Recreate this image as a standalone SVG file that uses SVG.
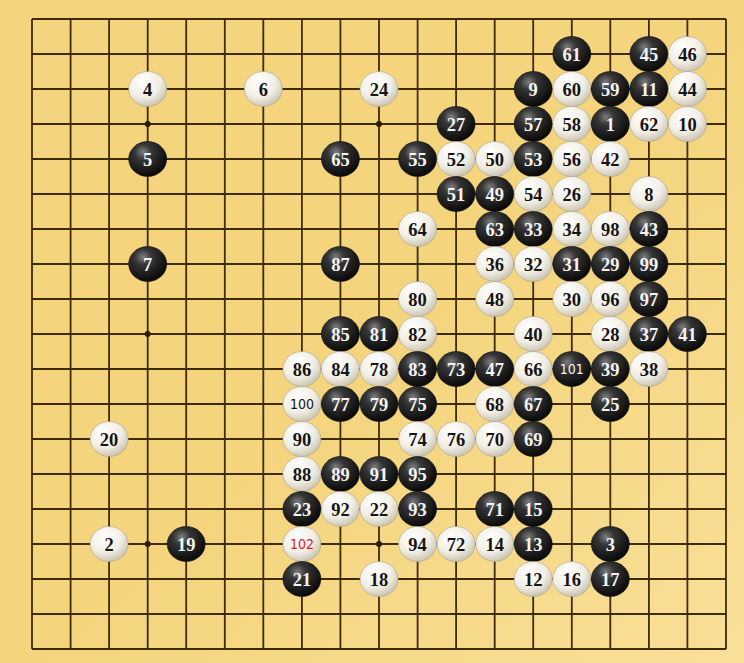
<svg xmlns="http://www.w3.org/2000/svg" width="744" height="663" viewBox="0 0 744 663">
<defs>
<linearGradient id="board" x1="0" y1="0" x2="1" y2="1">
<stop offset="0" stop-color="#f5d47f"/>
<stop offset="0.5" stop-color="#f4d47c"/>
<stop offset="1" stop-color="#f9df98"/>
</linearGradient>
<radialGradient id="gb" cx="0.38" cy="0.3" r="0.75">
<stop offset="0" stop-color="#7e7e7e"/>
<stop offset="0.3" stop-color="#353535"/>
<stop offset="1" stop-color="#050505"/>
</radialGradient>
<radialGradient id="gw" cx="0.38" cy="0.3" r="0.8">
<stop offset="0" stop-color="#ffffff"/>
<stop offset="0.55" stop-color="#f1eee4"/>
<stop offset="1" stop-color="#bfb8a4"/>
</radialGradient>
<style>
.grid{stroke:#3d2b0c;stroke-width:1.8;fill:none}
.star{fill:#2a1c06}
ellipse{stroke-width:0.6}
.b ellipse{fill:url(#gb);stroke:#111}
.w ellipse{fill:url(#gw);stroke:#a89f88}
text{font-family:"Liberation Serif","DejaVu Serif",serif;font-weight:bold;font-size:18.5px;text-anchor:middle}
.b text{fill:#f4f4f4}
.w text{fill:#151515}
text.t{font-family:"DejaVu Sans Condensed","DejaVu Sans",sans-serif;font-weight:normal;font-size:14px}
.w text.red{fill:#e01818}
</style>
</defs>
<rect x="0" y="0" width="744" height="663" fill="url(#board)"/>
<g id="grid">
<path class="grid" d="M32,19H726M32,54H726M32,89H726M32,124H726M32,159H726M32,194H726M32,229H726M32,264H726M32,299H726M32,334H726M32,369H726M32,404H726M32,439H726M32,474H726M32,509H726M32,544H726M32,579H726M32,614H726M32,649H726
M32,19V649M70.6,19V649M109.1,19V649M147.7,19V649M186.2,19V649M224.8,19V649M263.3,19V649M301.9,19V649M340.4,19V649M379,19V649M417.6,19V649M456.1,19V649M494.7,19V649M533.2,19V649M571.8,19V649M610.3,19V649M648.9,19V649M687.4,19V649M726,19V649"/>
<circle class="star" cx="147.7" cy="124" r="3"/>
<circle class="star" cx="379" cy="124" r="3"/>
<circle class="star" cx="610.3" cy="124" r="3"/>
<circle class="star" cx="147.7" cy="334" r="3"/>
<circle class="star" cx="379" cy="334" r="3"/>
<circle class="star" cx="610.3" cy="334" r="3"/>
<circle class="star" cx="147.7" cy="544" r="3"/>
<circle class="star" cx="379" cy="544" r="3"/>
<circle class="star" cx="610.3" cy="544" r="3"/>
</g>
<g id="stones">
<g id="s61" class="b" transform="translate(571.8,54)"><ellipse rx="19" ry="17.5"/><text y="6.5">61</text></g>
<g id="s45" class="b" transform="translate(648.9,54)"><ellipse rx="19" ry="17.5"/><text y="6.5">45</text></g>
<g id="s46" class="w" transform="translate(687.4,54)"><ellipse rx="19" ry="17.5"/><text y="6.5">46</text></g>

<g id="s4" class="w" transform="translate(147.7,89)"><ellipse rx="19" ry="17.5"/><text y="6.5">4</text></g>
<g id="s6" class="w" transform="translate(263.3,89)"><ellipse rx="19" ry="17.5"/><text y="6.5">6</text></g>
<g id="s24" class="w" transform="translate(379,89)"><ellipse rx="19" ry="17.5"/><text y="6.5">24</text></g>
<g id="s9" class="b" transform="translate(533.2,89)"><ellipse rx="19" ry="17.5"/><text y="6.5">9</text></g>
<g id="s60" class="w" transform="translate(571.8,89)"><ellipse rx="19" ry="17.5"/><text y="6.5">60</text></g>
<g id="s59" class="b" transform="translate(610.3,89)"><ellipse rx="19" ry="17.5"/><text y="6.5">59</text></g>
<g id="s11" class="b" transform="translate(648.9,89)"><ellipse rx="19" ry="17.5"/><text y="6.5">11</text></g>
<g id="s44" class="w" transform="translate(687.4,89)"><ellipse rx="19" ry="17.5"/><text y="6.5">44</text></g>

<g id="s27" class="b" transform="translate(456.1,124)"><ellipse rx="19" ry="17.5"/><text y="6.5">27</text></g>
<g id="s57" class="b" transform="translate(533.2,124)"><ellipse rx="19" ry="17.5"/><text y="6.5">57</text></g>
<g id="s58" class="w" transform="translate(571.8,124)"><ellipse rx="19" ry="17.5"/><text y="6.5">58</text></g>
<g id="s1" class="b" transform="translate(610.3,124)"><ellipse rx="19" ry="17.5"/><text y="6.5">1</text></g>
<g id="s62" class="w" transform="translate(648.9,124)"><ellipse rx="19" ry="17.5"/><text y="6.5">62</text></g>
<g id="s10" class="w" transform="translate(687.4,124)"><ellipse rx="19" ry="17.5"/><text y="6.5">10</text></g>

<g id="s5" class="b" transform="translate(147.7,159)"><ellipse rx="19" ry="17.5"/><text y="6.5">5</text></g>
<g id="s65" class="b" transform="translate(340.4,159)"><ellipse rx="19" ry="17.5"/><text y="6.5">65</text></g>
<g id="s55" class="b" transform="translate(417.6,159)"><ellipse rx="19" ry="17.5"/><text y="6.5">55</text></g>
<g id="s52" class="w" transform="translate(456.1,159)"><ellipse rx="19" ry="17.5"/><text y="6.5">52</text></g>
<g id="s50" class="w" transform="translate(494.7,159)"><ellipse rx="19" ry="17.5"/><text y="6.5">50</text></g>
<g id="s53" class="b" transform="translate(533.2,159)"><ellipse rx="19" ry="17.5"/><text y="6.5">53</text></g>
<g id="s56" class="w" transform="translate(571.8,159)"><ellipse rx="19" ry="17.5"/><text y="6.5">56</text></g>
<g id="s42" class="w" transform="translate(610.3,159)"><ellipse rx="19" ry="17.5"/><text y="6.5">42</text></g>

<g id="s51" class="b" transform="translate(456.1,194)"><ellipse rx="19" ry="17.5"/><text y="6.5">51</text></g>
<g id="s49" class="b" transform="translate(494.7,194)"><ellipse rx="19" ry="17.5"/><text y="6.5">49</text></g>
<g id="s54" class="w" transform="translate(533.2,194)"><ellipse rx="19" ry="17.5"/><text y="6.5">54</text></g>
<g id="s26" class="w" transform="translate(571.8,194)"><ellipse rx="19" ry="17.5"/><text y="6.5">26</text></g>
<g id="s8" class="w" transform="translate(648.9,194)"><ellipse rx="19" ry="17.5"/><text y="6.5">8</text></g>

<g id="s64" class="w" transform="translate(417.6,229)"><ellipse rx="19" ry="17.5"/><text y="6.5">64</text></g>
<g id="s63" class="b" transform="translate(494.7,229)"><ellipse rx="19" ry="17.5"/><text y="6.5">63</text></g>
<g id="s33" class="b" transform="translate(533.2,229)"><ellipse rx="19" ry="17.5"/><text y="6.5">33</text></g>
<g id="s34" class="w" transform="translate(571.8,229)"><ellipse rx="19" ry="17.5"/><text y="6.5">34</text></g>
<g id="s98" class="w" transform="translate(610.3,229)"><ellipse rx="19" ry="17.5"/><text y="6.5">98</text></g>
<g id="s43" class="b" transform="translate(648.9,229)"><ellipse rx="19" ry="17.5"/><text y="6.5">43</text></g>

<g id="s7" class="b" transform="translate(147.7,264)"><ellipse rx="19" ry="17.5"/><text y="6.5">7</text></g>
<g id="s87" class="b" transform="translate(340.4,264)"><ellipse rx="19" ry="17.5"/><text y="6.5">87</text></g>
<g id="s36" class="w" transform="translate(494.7,264)"><ellipse rx="19" ry="17.5"/><text y="6.5">36</text></g>
<g id="s32" class="w" transform="translate(533.2,264)"><ellipse rx="19" ry="17.5"/><text y="6.5">32</text></g>
<g id="s31" class="b" transform="translate(571.8,264)"><ellipse rx="19" ry="17.5"/><text y="6.5">31</text></g>
<g id="s29" class="b" transform="translate(610.3,264)"><ellipse rx="19" ry="17.5"/><text y="6.5">29</text></g>
<g id="s99" class="b" transform="translate(648.9,264)"><ellipse rx="19" ry="17.5"/><text y="6.5">99</text></g>

<g id="s80" class="w" transform="translate(417.6,299)"><ellipse rx="19" ry="17.5"/><text y="6.5">80</text></g>
<g id="s48" class="w" transform="translate(494.7,299)"><ellipse rx="19" ry="17.5"/><text y="6.5">48</text></g>
<g id="s30" class="w" transform="translate(571.8,299)"><ellipse rx="19" ry="17.5"/><text y="6.5">30</text></g>
<g id="s96" class="w" transform="translate(610.3,299)"><ellipse rx="19" ry="17.5"/><text y="6.5">96</text></g>
<g id="s97" class="b" transform="translate(648.9,299)"><ellipse rx="19" ry="17.5"/><text y="6.5">97</text></g>

<g id="s85" class="b" transform="translate(340.4,334)"><ellipse rx="19" ry="17.5"/><text y="6.5">85</text></g>
<g id="s81" class="b" transform="translate(379,334)"><ellipse rx="19" ry="17.5"/><text y="6.5">81</text></g>
<g id="s82" class="w" transform="translate(417.6,334)"><ellipse rx="19" ry="17.5"/><text y="6.5">82</text></g>
<g id="s40" class="w" transform="translate(533.2,334)"><ellipse rx="19" ry="17.5"/><text y="6.5">40</text></g>
<g id="s28" class="w" transform="translate(610.3,334)"><ellipse rx="19" ry="17.5"/><text y="6.5">28</text></g>
<g id="s37" class="b" transform="translate(648.9,334)"><ellipse rx="19" ry="17.5"/><text y="6.5">37</text></g>
<g id="s41" class="b" transform="translate(687.4,334)"><ellipse rx="19" ry="17.5"/><text y="6.5">41</text></g>

<g id="s86" class="w" transform="translate(301.9,369)"><ellipse rx="19" ry="17.5"/><text y="6.5">86</text></g>
<g id="s84" class="w" transform="translate(340.4,369)"><ellipse rx="19" ry="17.5"/><text y="6.5">84</text></g>
<g id="s78" class="w" transform="translate(379,369)"><ellipse rx="19" ry="17.5"/><text y="6.5">78</text></g>
<g id="s83" class="b" transform="translate(417.6,369)"><ellipse rx="19" ry="17.5"/><text y="6.5">83</text></g>
<g id="s73" class="b" transform="translate(456.1,369)"><ellipse rx="19" ry="17.5"/><text y="6.5">73</text></g>
<g id="s47" class="b" transform="translate(494.7,369)"><ellipse rx="19" ry="17.5"/><text y="6.5">47</text></g>
<g id="s66" class="w" transform="translate(533.2,369)"><ellipse rx="19" ry="17.5"/><text y="6.5">66</text></g>
<g id="s101" class="b" transform="translate(571.8,369)"><ellipse rx="19" ry="17.5"/><text class="t" y="5">101</text></g>
<g id="s39" class="b" transform="translate(610.3,369)"><ellipse rx="19" ry="17.5"/><text y="6.5">39</text></g>
<g id="s38" class="w" transform="translate(648.9,369)"><ellipse rx="19" ry="17.5"/><text y="6.5">38</text></g>

<g id="s100" class="w" transform="translate(301.9,404)"><ellipse rx="19" ry="17.5"/><text class="t" y="5">100</text></g>
<g id="s77" class="b" transform="translate(340.4,404)"><ellipse rx="19" ry="17.5"/><text y="6.5">77</text></g>
<g id="s79" class="b" transform="translate(379,404)"><ellipse rx="19" ry="17.5"/><text y="6.5">79</text></g>
<g id="s75" class="b" transform="translate(417.6,404)"><ellipse rx="19" ry="17.5"/><text y="6.5">75</text></g>
<g id="s68" class="w" transform="translate(494.7,404)"><ellipse rx="19" ry="17.5"/><text y="6.5">68</text></g>
<g id="s67" class="b" transform="translate(533.2,404)"><ellipse rx="19" ry="17.5"/><text y="6.5">67</text></g>
<g id="s25" class="b" transform="translate(610.3,404)"><ellipse rx="19" ry="17.5"/><text y="6.5">25</text></g>

<g id="s20" class="w" transform="translate(109.1,439)"><ellipse rx="19" ry="17.5"/><text y="6.5">20</text></g>
<g id="s90" class="w" transform="translate(301.9,439)"><ellipse rx="19" ry="17.5"/><text y="6.5">90</text></g>
<g id="s74" class="w" transform="translate(417.6,439)"><ellipse rx="19" ry="17.5"/><text y="6.5">74</text></g>
<g id="s76" class="w" transform="translate(456.1,439)"><ellipse rx="19" ry="17.5"/><text y="6.5">76</text></g>
<g id="s70" class="w" transform="translate(494.7,439)"><ellipse rx="19" ry="17.5"/><text y="6.5">70</text></g>
<g id="s69" class="b" transform="translate(533.2,439)"><ellipse rx="19" ry="17.5"/><text y="6.5">69</text></g>

<g id="s88" class="w" transform="translate(301.9,474)"><ellipse rx="19" ry="17.5"/><text y="6.5">88</text></g>
<g id="s89" class="b" transform="translate(340.4,474)"><ellipse rx="19" ry="17.5"/><text y="6.5">89</text></g>
<g id="s91" class="b" transform="translate(379,474)"><ellipse rx="19" ry="17.5"/><text y="6.5">91</text></g>
<g id="s95" class="b" transform="translate(417.6,474)"><ellipse rx="19" ry="17.5"/><text y="6.5">95</text></g>

<g id="s23" class="b" transform="translate(301.9,509)"><ellipse rx="19" ry="17.5"/><text y="6.5">23</text></g>
<g id="s92" class="w" transform="translate(340.4,509)"><ellipse rx="19" ry="17.5"/><text y="6.5">92</text></g>
<g id="s22" class="w" transform="translate(379,509)"><ellipse rx="19" ry="17.5"/><text y="6.5">22</text></g>
<g id="s93" class="b" transform="translate(417.6,509)"><ellipse rx="19" ry="17.5"/><text y="6.5">93</text></g>
<g id="s71" class="b" transform="translate(494.7,509)"><ellipse rx="19" ry="17.5"/><text y="6.5">71</text></g>
<g id="s15" class="b" transform="translate(533.2,509)"><ellipse rx="19" ry="17.5"/><text y="6.5">15</text></g>

<g id="s2" class="w" transform="translate(109.1,544)"><ellipse rx="19" ry="17.5"/><text y="6.5">2</text></g>
<g id="s19" class="b" transform="translate(186.2,544)"><ellipse rx="19" ry="17.5"/><text y="6.5">19</text></g>
<g id="s102" class="w" transform="translate(301.9,544)"><ellipse rx="19" ry="17.5"/><text class="t red" y="5">102</text></g>
<g id="s94" class="w" transform="translate(417.6,544)"><ellipse rx="19" ry="17.5"/><text y="6.5">94</text></g>
<g id="s72" class="w" transform="translate(456.1,544)"><ellipse rx="19" ry="17.5"/><text y="6.5">72</text></g>
<g id="s14" class="w" transform="translate(494.7,544)"><ellipse rx="19" ry="17.5"/><text y="6.5">14</text></g>
<g id="s13" class="b" transform="translate(533.2,544)"><ellipse rx="19" ry="17.5"/><text y="6.5">13</text></g>
<g id="s3" class="b" transform="translate(610.3,544)"><ellipse rx="19" ry="17.5"/><text y="6.5">3</text></g>

<g id="s21" class="b" transform="translate(301.9,579)"><ellipse rx="19" ry="17.5"/><text y="6.5">21</text></g>
<g id="s18" class="w" transform="translate(379,579)"><ellipse rx="19" ry="17.5"/><text y="6.5">18</text></g>
<g id="s12" class="w" transform="translate(533.2,579)"><ellipse rx="19" ry="17.5"/><text y="6.5">12</text></g>
<g id="s16" class="w" transform="translate(571.8,579)"><ellipse rx="19" ry="17.5"/><text y="6.5">16</text></g>
<g id="s17" class="b" transform="translate(610.3,579)"><ellipse rx="19" ry="17.5"/><text y="6.5">17</text></g>
</g>
</svg>
